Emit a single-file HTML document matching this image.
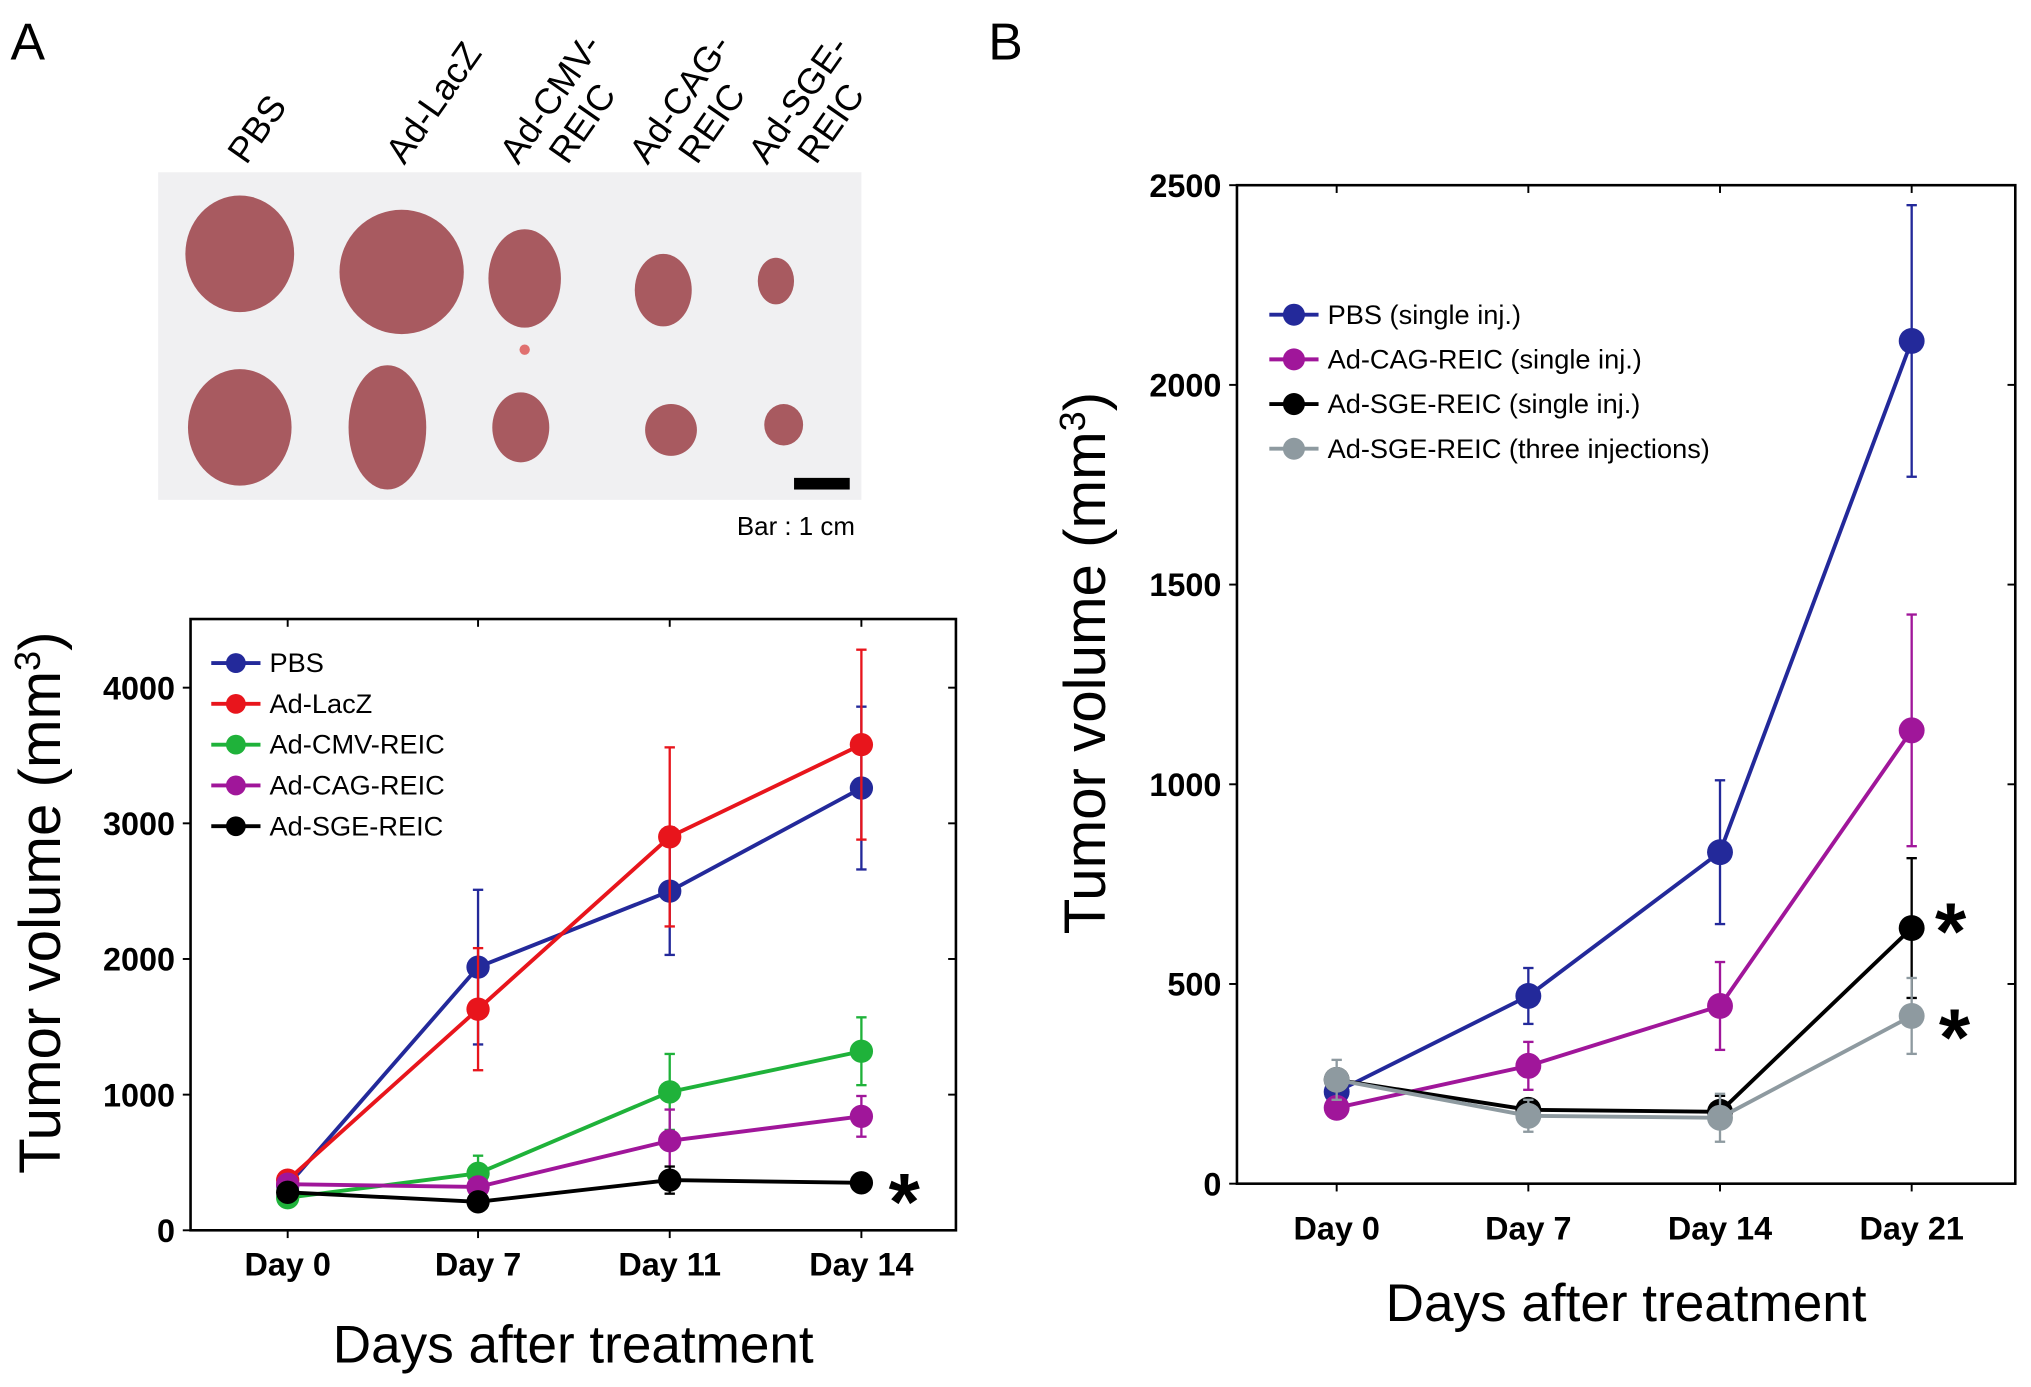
<!DOCTYPE html>
<html><head><meta charset="utf-8"><style>
html,body{margin:0;padding:0;background:#fff}
svg{display:block}
text{font-family:"Liberation Sans",Arial,sans-serif}
</style></head><body>
<svg id="fig" width="2031" height="1387" viewBox="0 0 1568 1071" xmlns="http://www.w3.org/2000/svg">
<text x="8" y="46" font-size="40">A</text>
<text x="763" y="46" font-size="40">B</text>
<g font-size="28">
<text transform="translate(190,128) rotate(-55)">PBS</text>
<text transform="translate(312,128) rotate(-55)">Ad-LacZ</text>
<text transform="translate(400,128) rotate(-55)">Ad-CMV-</text>
<text transform="translate(438,128) rotate(-55)">REIC</text>
<text transform="translate(500,128) rotate(-55)">Ad-CAG-</text>
<text transform="translate(538,128) rotate(-55)">REIC</text>
<text transform="translate(592,128) rotate(-55)">Ad-SGE-</text>
<text transform="translate(630,128) rotate(-55)">REIC</text>
</g>
<g>
<rect x="122" y="133" width="543" height="253" fill="#f0f0f2"/>
<g fill="#a85a60">
<ellipse cx="185" cy="196" rx="42" ry="45"/>
<ellipse cx="310" cy="210" rx="48" ry="48"/>
<ellipse cx="405" cy="215" rx="28" ry="38"/>
<ellipse cx="512" cy="224" rx="22" ry="28"/>
<ellipse cx="599" cy="217" rx="14" ry="18"/>
<ellipse cx="185" cy="330" rx="40" ry="45"/>
<ellipse cx="299" cy="330" rx="30" ry="48"/>
<ellipse cx="402" cy="330" rx="22" ry="27"/>
<ellipse cx="518" cy="332" rx="20" ry="20"/>
<ellipse cx="605" cy="328" rx="15" ry="16"/>
<circle cx="405" cy="270" r="4" fill="#e07070"/>
</g>
<rect x="613" y="369" width="43" height="9" fill="#000"/>
</g>
<text x="660" y="413" font-size="20" text-anchor="end">Bar : 1 cm</text>
<g id="chartA"></g>
<g id="chartB"></g>
</svg>
<script>
const NS="http://www.w3.org/2000/svg";
// Chart A data
const catsA=["Day 0","Day 7","Day 11","Day 14"];
const ticksA=[0,1000,2000,3000,4000];
const namesA=["PBS","Ad-LacZ","Ad-CMV-REIC","Ad-CAG-REIC","Ad-SGE-REIC"];
const colorsA=["#23299a","#e8151c","#1fb23a","#a0169a","#000000"];
const pbsA=[330,1940,2500,3260];
const pbsErrA=[0,570,470,600];
const laczA=[370,1630,2900,3580];
const laczErrA=[0,450,660,700];
const cmvA=[240,420,1020,1320];
const cmvErrA=[0,130,280,250];
const cagA=[340,320,660,840];
const cagErrA=[0,50,230,150];
const sgeA=[280,210,370,350];
const sgeErrA=[0,0,100,0];
// Chart B data
const catsB=["Day 0","Day 7","Day 14","Day 21"];
const ticksB=[0,500,1000,1500,2000,2500];
const namesB=["PBS (single inj.)","Ad-CAG-REIC (single inj.)","Ad-SGE-REIC (single inj.)","Ad-SGE-REIC (three injections)"];
const colorsB=["#23299a","#a0169a","#000000","#8e9aa0"];
const pbsB=[230,470,830,2110];
const pbsErrB=[0,70,180,340];
const cagB=[190,295,445,1135];
const cagErrB=[0,60,110,290];
const sgeB=[260,185,180,640];
const sgeErrB=[0,0,40,175];
const sge3B=[260,170,165,420];
const sge3ErrB=[50,40,60,95];

function mk(parent,tag,attrs,txt){const e=document.createElementNS(NS,tag);for(const k in attrs)e.setAttribute(k,attrs[k]);if(txt!==undefined)e.textContent=txt;parent.appendChild(e);return e;}

function drawChart(g,o){
  const {x0,x1,y0,y1,ymax,cats,xs,ticks,series,errs,colors,names,tickFont,lw,r,legX,legY,legDy,legFont,ylabX,ylabY,titleFont,xtitleFont,xlabY,xtitleY,stars}=o;
  const sx=i=>xs[i];
  const sy=v=>y1-(v/ymax)*(y1-y0);
  const f=mk(g,"rect",{x:x0,y:y0,width:x1-x0,height:y1-y0,fill:"none",stroke:"#000","stroke-width":2});
  
  
  ticks.forEach(t=>{
    const y=sy(t);
    mk(g,"line",{x1:x0-6,x2:x0,y1:y,y2:y,stroke:"#000","stroke-width":1.5});
    mk(g,"line",{x1:x1-6,x2:x1,y1:y,y2:y,stroke:"#000","stroke-width":1.5});
    const tl=mk(g,"text",{x:x0-12,y:y+9,"font-size":tickFont,"font-weight":"bold","text-anchor":"end"},String(t));
    
    
  });
  cats.forEach((c,i)=>{
    mk(g,"line",{x1:sx(i),x2:sx(i),y1:y1,y2:y1+6,stroke:"#000","stroke-width":1.5});
    mk(g,"line",{x1:sx(i),x2:sx(i),y1:y0,y2:y0+6,stroke:"#000","stroke-width":1.5});
    const xl=mk(g,"text",{x:sx(i),y:xlabY,"font-size":tickFont,"font-weight":"bold","text-anchor":"middle"},c);
    
    
  });
  series.forEach((s,k)=>{
    const sg=mk(g,"g",{});
    
    
    s.forEach((v,i)=>{const e=errs[k][i];if(e>0){
      mk(sg,"line",{x1:sx(i),x2:sx(i),y1:sy(v-e),y2:sy(v+e),stroke:colors[k],"stroke-width":1.8});
      mk(sg,"line",{x1:sx(i)-4,x2:sx(i)+4,y1:sy(v-e),y2:sy(v-e),stroke:colors[k],"stroke-width":1.8});
      mk(sg,"line",{x1:sx(i)-4,x2:sx(i)+4,y1:sy(v+e),y2:sy(v+e),stroke:colors[k],"stroke-width":1.8});
    }});
    mk(sg,"polyline",{points:s.map((v,i)=>sx(i)+","+sy(v)).join(" "),fill:"none",stroke:colors[k],"stroke-width":lw});
    s.forEach((v,i)=>{
      const p=mk(sg,"circle",{cx:sx(i),cy:sy(v),r:r,fill:colors[k]});
      
      
    });
    const le=mk(g,"g",{});
    
    
    const ly=legY+k*legDy;
    mk(le,"line",{x1:legX,x2:legX+38,y1:ly,y2:ly,stroke:colors[k],"stroke-width":3});
    mk(le,"circle",{cx:legX+19,cy:ly,r:r*0.85,fill:colors[k]});
    mk(le,"text",{x:legX+45,y:ly+7,"font-size":legFont},names[k]);
  });
  stars.forEach(st=>{
    const s=mk(g,"text",{x:st[0],y:sy(st[1])+st[2],"font-size":62,"font-weight":"bold"},"*");
    
    
  });
  const yt=mk(g,"text",{transform:`translate(${ylabX},${ylabY}) rotate(-90)`,"font-size":titleFont,"text-anchor":"middle"});
  
  
  yt.appendChild(document.createTextNode("Tumor volume (mm"));
  mk(yt,"tspan",{"baseline-shift":"super","font-size":titleFont*0.62},"3");
  mk(yt,"tspan",{},")");
  const xt=mk(g,"text",{x:(x0+x1)/2,y:xtitleY,"font-size":xtitleFont,"text-anchor":"middle"},"Days after treatment");
  
  
}

drawChart(document.getElementById("chartA"),{
  x0:147,x1:738,y0:478,y1:950,ymax:(950-478)/0.10475,
  cats:catsA,xs:[222,369,517,665],ticks:ticksA,
  series:[pbsA,laczA,cmvA,cagA,sgeA],errs:[pbsErrA,laczErrA,cmvErrA,cagErrA,sgeErrA],
  colors:colorsA,names:namesA,tickFont:25,lw:3,r:9,
  legX:163,legY:512,legDy:31.5,legFont:21,
  ylabX:46,ylabY:697,titleFont:45,xtitleFont:41,xlabY:985,xtitleY:1052,
  stars:[[686,350,36]]
});
drawChart(document.getElementById("chartB"),{
  x0:955,x1:1556,y0:143,y1:914,ymax:2500,
  cats:catsB,xs:[1032,1180,1328,1476],ticks:ticksB,
  series:[pbsB,cagB,sgeB,sge3B],errs:[pbsErrB,cagErrB,sgeErrB,sge3ErrB],
  colors:colorsB,names:namesB,tickFont:25,lw:3,r:10,
  legX:980,legY:243,legDy:34.5,legFont:21,
  ylabX:853,ylabY:512,titleFont:45,xtitleFont:41,xlabY:957,xtitleY:1020,
  stars:[[1494,640,24],[1497,420,38]]
});
</script>
</body></html>
